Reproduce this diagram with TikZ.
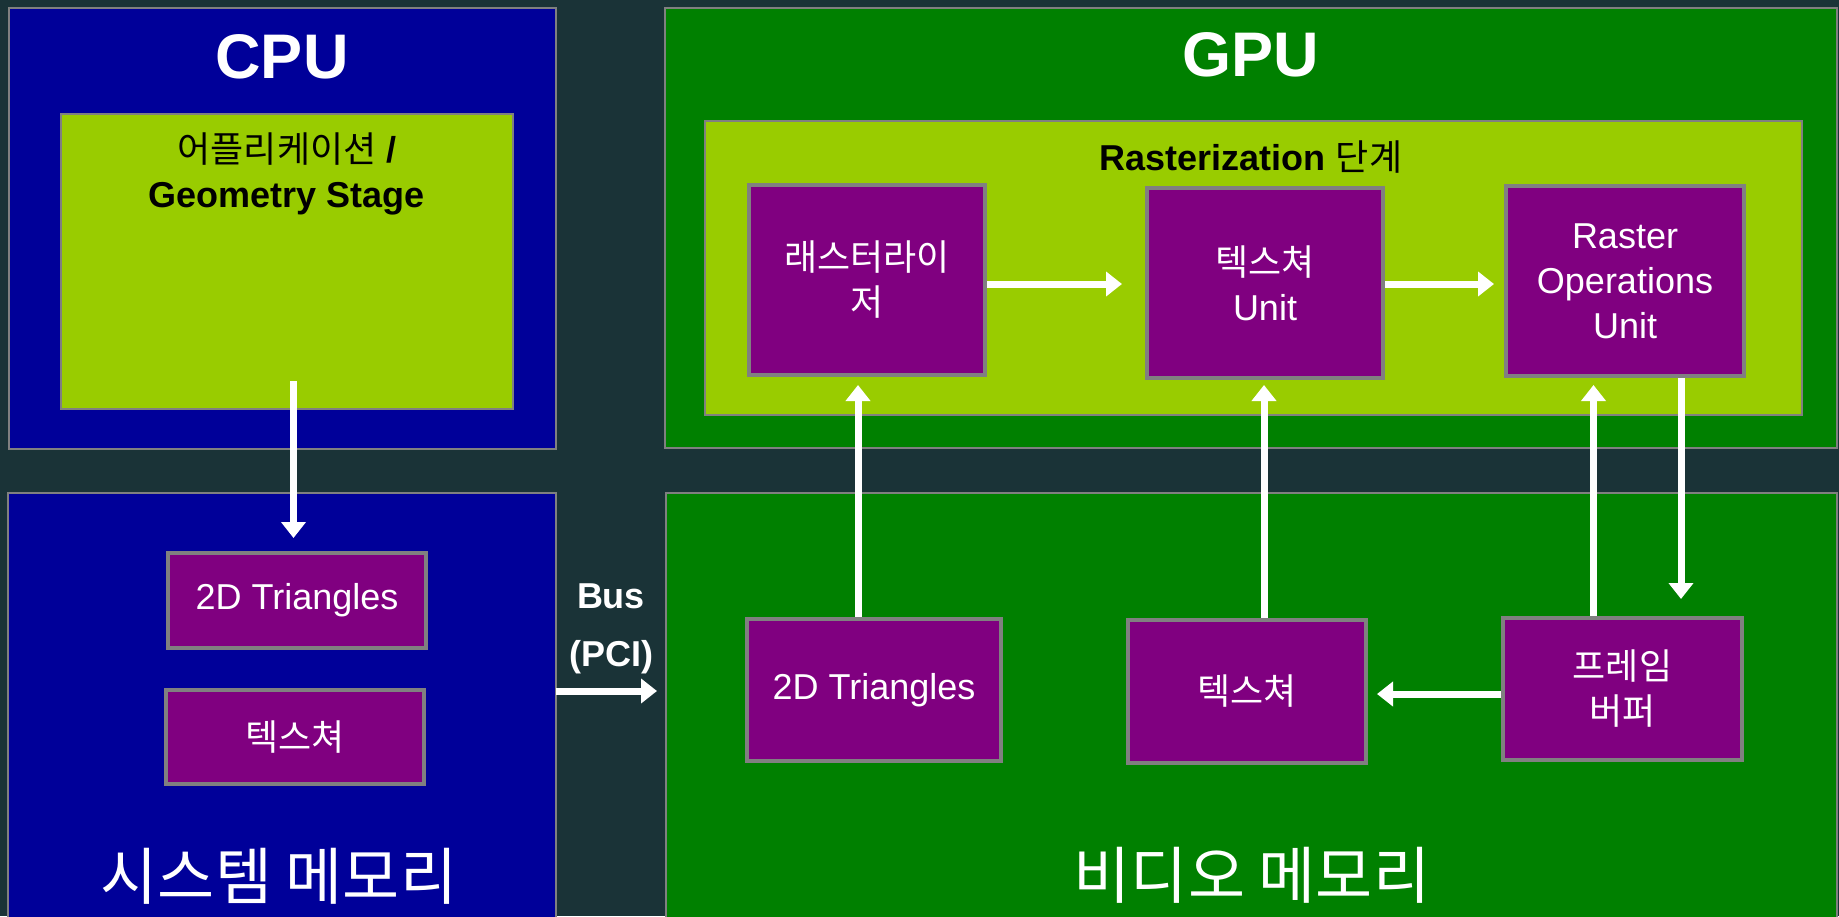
\documentclass[tikz,border=0pt]{standalone}
\usepackage{fontspec}
\setmainfont{Liberation Sans}
\newfontfamily\krfont{Noto Sans CJK KR}
\newcommand\kor[1]{{\krfont #1}}
\usetikzlibrary{arrows.meta}
\definecolor{bgc}{RGB}{26,51,55}
\definecolor{cpublue}{HTML}{000099}
\definecolor{gpugreen}{HTML}{008000}
\definecolor{stagelime}{HTML}{99CC00}
\definecolor{unitpurple}{HTML}{800080}
\definecolor{bordergray}{HTML}{808080}
\tikzset{
  container/.style={draw=bordergray, line width=1.5pt, inner sep=0pt, outer sep=0pt},
  cpubox/.style={container, fill=cpublue},
  gpubox/.style={container, fill=gpugreen},
  stagebox/.style={container, fill=stagelime},
  unitbox/.style={draw=bordergray, line width=4pt, fill=unitpurple, text=white, align=center,
    font=\fontsize{36}{45}\selectfont, inner sep=0pt, outer sep=2pt},
  titletext/.style={text=white, font=\bfseries\fontsize{63}{63}\selectfont, inner sep=0pt},
  stagetext/.style={text=black, align=center, font=\bfseries\fontsize{36}{45}\selectfont, inner sep=0pt},
  memtext/.style={text=white, font=\krfont\fontsize{62}{62}\selectfont, inner sep=0pt},
  bustext/.style={text=white, align=center, font=\bfseries\fontsize{36}{58}\selectfont, inner sep=0pt},
  arr/.style={draw=white, line width=7pt, -{Triangle[width=24pt,length=16pt]}}
}
\begin{document}
\begin{tikzpicture}[x=1pt,y=-1pt]
\fill[bgc] (0,0) rectangle (1839,916);
\useasboundingbox (0,0) rectangle (1839,916);

% CPU
\node[cpubox, minimum width=547pt, minimum height=441pt] (cpu) at (282.5,228.5) {};
\node[titletext] (cputitle) at (282,57) {CPU};
\node[stagebox, minimum width=452pt, minimum height=295pt] (geom) at (287,261.5) {};
\node[stagetext] (geomlabel) at (287,174) {\kor{\mdseries 어플리케이션} /\\Geometry Stage};

% System memory
\node[cpubox, minimum width=548pt, minimum height=427pt] (sysmem) at (282,706.5) {};
\node[unitbox, minimum width=258pt, minimum height=95pt] (tri1) at (297,600.5) {2D Triangles};
\node[unitbox, minimum width=258pt, minimum height=94pt] (tex1) at (295,737) {\kor{텍스쳐}};
\node[memtext] (sysmemlabel) at (279,876) {시스템 메모리};

% Bus
\node[bustext] (bus) at (611,629) {Bus\\(PCI)};

% GPU
\node[gpubox, minimum width=1172pt, minimum height=440pt] (gpu) at (1251,228) {};
\node[titletext] (gputitle) at (1251,55) {GPU};
\node[stagebox, minimum width=1097pt, minimum height=294pt] (raster) at (1253.5,268) {};
\node[stagetext] (rasterlabel) at (1251,157) {Rasterization \kor{\mdseries 단계}};
\node[unitbox, minimum width=236pt, minimum height=190pt] (rast) at (867,280) {\kor{래스터라이}\\\kor{저}};
\node[unitbox, minimum width=236pt, minimum height=190pt] (texu) at (1265,283) {\kor{텍스쳐}\\Unit};
\node[unitbox, minimum width=238pt, minimum height=190pt] (rop) at (1625,281) {Raster\\Operations\\Unit};

% Video memory
\node[gpubox, minimum width=1171pt, minimum height=425pt] (vidmem) at (1251.5,705.5) {};
\node[unitbox, minimum width=254pt, minimum height=142pt] (tri2) at (874,690) {2D Triangles};
\node[unitbox, minimum width=238pt, minimum height=143pt] (tex2) at (1247,691.5) {\kor{텍스쳐}};
\node[unitbox, minimum width=239pt, minimum height=142pt] (fb) at (1622.5,689) {\kor{프레임}\\\kor{버퍼}};
\node[memtext] (vidmemlabel) at (1252,875) {비디오 메모리};

% Connectors
\coordinate (g0) at (293.5,381);
\draw[arr, shorten >=13pt] (g0) -- (g0 |- tri1.north);
\draw[arr, shorten >=9pt] (sysmem.east |- 0,691) -- (vidmem.west |- 0,691);
\draw[arr, shorten >=23pt] (rast.east |- 0,284) -- (texu.west |- 0,284);
\draw[arr, shorten >=10pt] (texu.east |- 0,284) -- (rop.west |- 0,284);
\draw[arr, shorten >=8pt] (858,0 |- tri2.north) -- (858,0 |- rast.south);
\draw[arr, shorten >=5pt] (1264,0 |- tex2.north) -- (1264,0 |- texu.south);
\draw[arr, shorten >=7pt] (1593.5,0 |- fb.north) -- (1593.5,0 |- rop.south);
\draw[arr, shorten >=17pt] (1681,0 |- rop.south) -- (1681,0 |- fb.north);
\draw[arr, shorten >=9pt] (fb.west |- 0,694) -- (tex2.east |- 0,694);
\end{tikzpicture}
\end{document}
